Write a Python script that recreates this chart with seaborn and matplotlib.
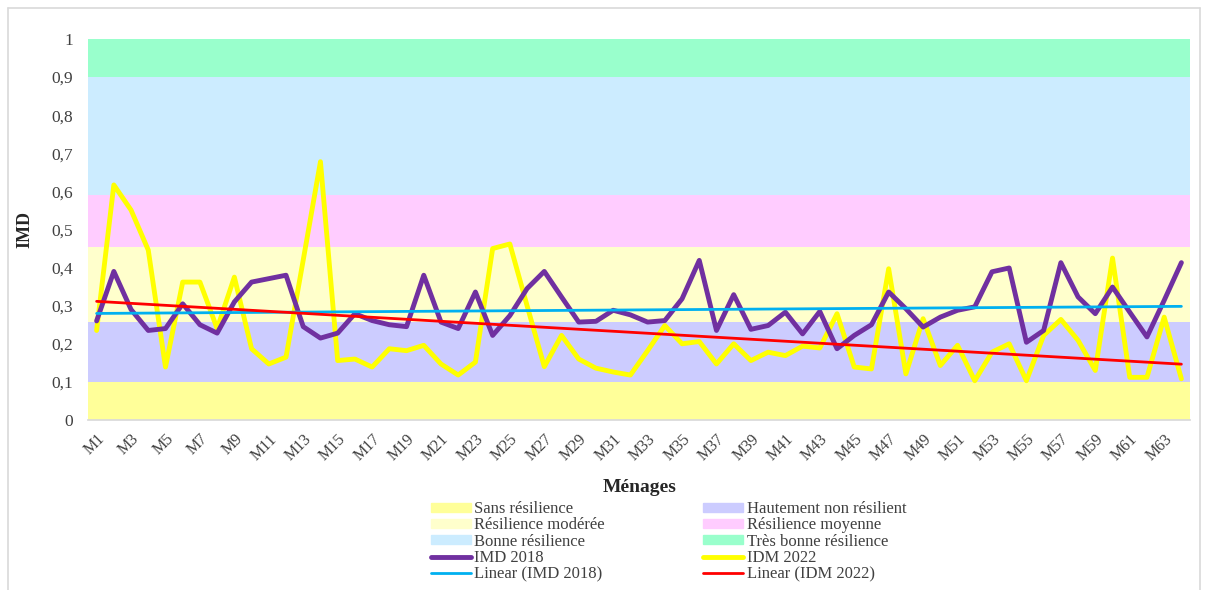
import matplotlib
matplotlib.use("Agg")
import matplotlib.pyplot as plt
import matplotlib.patches as mpatches
import matplotlib.lines as mlines
import seaborn as sns
import numpy as np
import pandas as pd

# households M1..M64
menages = ["M%d" % i for i in range(1, 65)]

imd_2018 = [0.26, 0.39, 0.29, 0.235, 0.24, 0.305, 0.25, 0.228, 0.31, 0.362,
            0.371, 0.38, 0.245, 0.215, 0.228, 0.279, 0.261, 0.25, 0.245, 0.38,
            0.257, 0.24, 0.336, 0.222, 0.274, 0.345, 0.39, 0.323, 0.257, 0.259,
            0.288, 0.276, 0.257, 0.261, 0.318, 0.419, 0.235, 0.329, 0.238, 0.248,
            0.283, 0.226, 0.285, 0.187, 0.222, 0.25, 0.336, 0.292, 0.244, 0.27,
            0.288, 0.297, 0.389, 0.399, 0.204, 0.235, 0.413, 0.323, 0.279, 0.349,
            0.283, 0.218, 0.314, 0.413]

idm_2022 = [0.235, 0.617, 0.551, 0.446, 0.139, 0.362, 0.362, 0.24, 0.375, 0.187,
            0.147, 0.165, 0.42, 0.678, 0.156, 0.16, 0.139, 0.187, 0.182, 0.196,
            0.147, 0.118, 0.152, 0.45, 0.462, 0.30, 0.14, 0.222, 0.16, 0.136,
            0.126, 0.118, 0.182, 0.248, 0.2, 0.206, 0.147, 0.2, 0.156, 0.178,
            0.169, 0.194, 0.189, 0.279, 0.139, 0.134, 0.397, 0.121, 0.266, 0.143,
            0.196, 0.103, 0.178, 0.2, 0.103, 0.222, 0.264, 0.209, 0.13, 0.425,
            0.112, 0.112, 0.27, 0.108]

# resilience classes (lower, upper bound)
classes = ["Sans résilience", "Hautement non résilient", "Résilience modérée",
           "Résilience moyenne", "Bonne résilience", "Très bonne résilience"]
class_bounds = [(0.0, 0.1), (0.1, 0.256), (0.256, 0.455), (0.455, 0.59),
                (0.59, 0.9), (0.9, 1.0)]
class_colors = ["#FFFF99", "#CCCCFF", "#FFFFCC", "#FFCCFF", "#CCECFF", "#99FFCC"]

sns.set_theme(style="white")
plt.rcParams['font.family'] = ['Liberation Serif', 'DejaVu Serif']

df = pd.DataFrame({"idx": np.arange(len(menages)), "IMD 2018": imd_2018,
                   "IDM 2022": idm_2022})

fig = plt.figure(figsize=(12.08, 5.90), dpi=100)
ax = fig.add_axes([88 / 1208, 1 - 420 / 590, (1190 - 88) / 1208, (420 - 39) / 590])

band_handles = {}
for name, (lo, hi), col in zip(classes, class_bounds, class_colors):
    ax.axhspan(lo, hi, color=col, lw=0, zorder=0)
    band_handles[name] = mpatches.Patch(color=col, label=name)

sns.lineplot(data=df, x="idx", y="IMD 2018", ax=ax, color="#7030A0", lw=3.5, zorder=3)
sns.lineplot(data=df, x="idx", y="IDM 2022", ax=ax, color="#FFFF00", lw=3.5, zorder=2)

# linear trends
x = df["idx"].values
fit18 = np.polyfit(x, imd_2018, 1)
fit22 = np.polyfit(x, idm_2022, 1)
ax.plot(x, np.polyval(fit18, x), color="#00B0F0", lw=2, zorder=4)
ax.plot(x, np.polyval(fit22, x), color="#FF0000", lw=2, zorder=4)

ax.set_xlim(-0.5, len(menages) - 0.5)
ax.set_ylim(0, 1)
ax.set_yticks(np.arange(0, 1.01, 0.1))
ax.set_yticklabels(["0"] + [("%.1f" % v).replace(".", ",") for v in np.arange(0.1, 0.95, 0.1)] + ["1"],
                   fontsize=12.5, color="#404040")
ax.set_xticks(x[::2])
ax.set_xticklabels(menages[::2], rotation=45, ha="right", rotation_mode="anchor",
                   fontsize=11.5, color="#404040")
ax.tick_params(axis="x", length=0, pad=8)
ax.tick_params(axis="y", length=0, pad=11)
for s in ["top", "right", "left"]:
    ax.spines[s].set_visible(False)
ax.spines["bottom"].set_color("#d9d9d9")
ax.set_xlabel("")
ax.set_ylabel("IMD", fontsize=13, fontweight="bold")
ax.yaxis.set_label_coords((33 - 88) / 1102, 0.5)
fig.text(640 / 1208, 1 - 487 / 590, "Ménages", ha="center", va="center",
         fontsize=14, fontweight="bold")

h_imd = mlines.Line2D([], [], color="#7030A0", lw=3.5, label="IMD 2018")
h_idm = mlines.Line2D([], [], color="#FFFF00", lw=3.5, label="IDM 2022")
h_l18 = mlines.Line2D([], [], color="#00B0F0", lw=2, label="Linear (IMD 2018)")
h_l22 = mlines.Line2D([], [], color="#FF0000", lw=2, label="Linear (IDM 2022)")
col1 = [band_handles[classes[0]], band_handles[classes[2]], band_handles[classes[4]], h_imd, h_l18]
col2 = [band_handles[classes[1]], band_handles[classes[3]], band_handles[classes[5]], h_idm, h_l22]
leg = fig.legend(handles=col1 + col2, ncol=2, loc="upper left",
                 bbox_to_anchor=(431 / 1208, 1 - 501 / 590), frameon=False,
                 fontsize=12, handlelength=2.4, handleheight=0.45, handletextpad=0.2,
                 labelspacing=0.02, columnspacing=5.9, borderpad=0, borderaxespad=0)
for t in leg.get_texts():
    t.set_color("#404040")

# outer chart frame
for xs, ys in [((8, 1200), (8, 8)), ((8, 8), (8, 590)), ((1200, 1200), (8, 590))]:
    fig.add_artist(mlines.Line2D([v / 1208 for v in xs], [1 - v / 590 for v in ys],
                                 color="#d9d9d9", lw=1.2, transform=fig.transFigure))

fig.savefig("out.png", dpi=100)
